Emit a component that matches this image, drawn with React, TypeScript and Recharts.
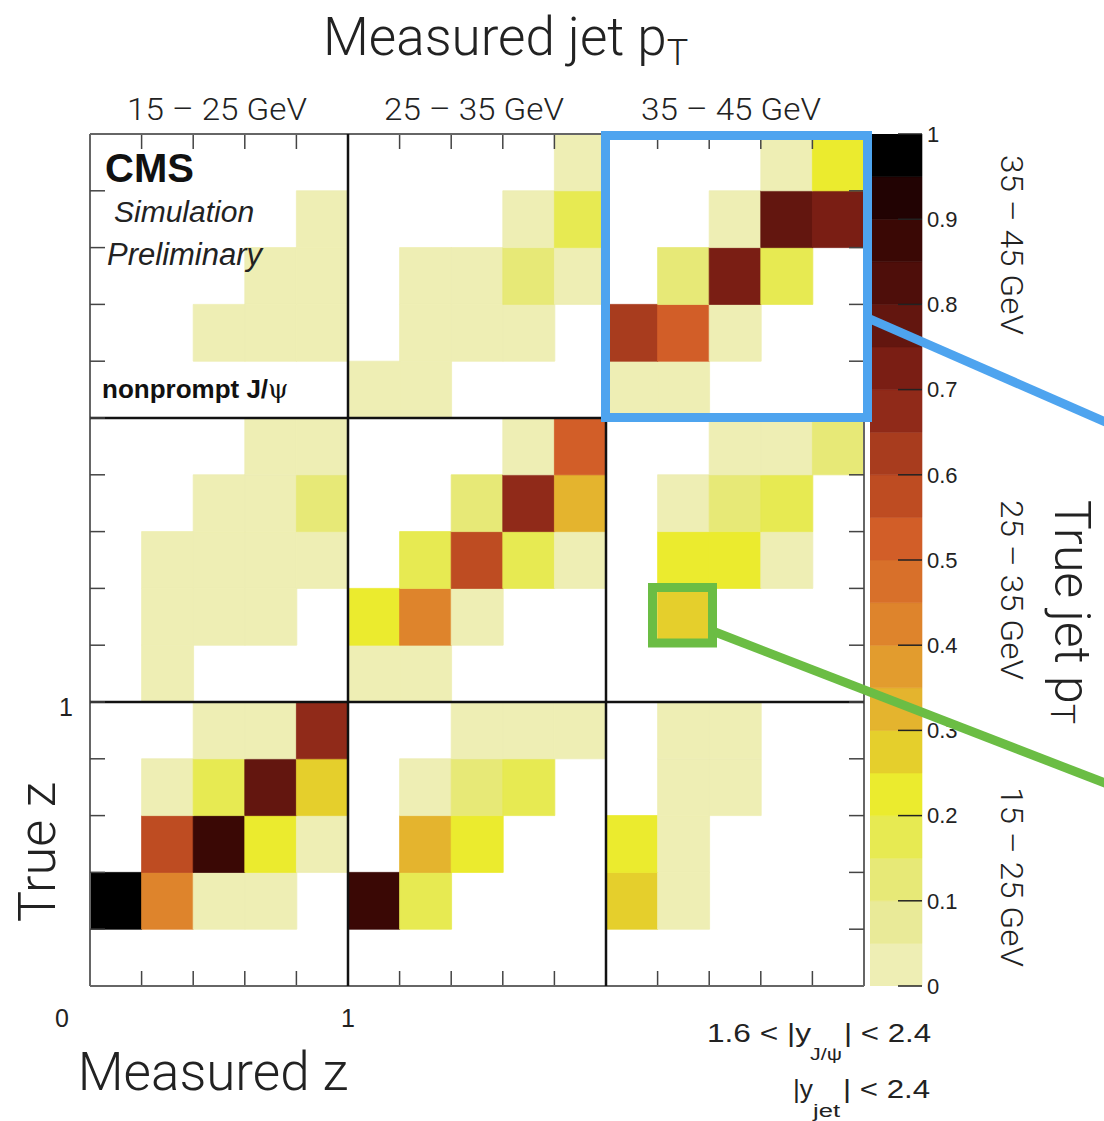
import React from 'react';
import { BarChart, Bar, Cell, XAxis, YAxis, ReferenceLine } from 'recharts';

// ---------- data (each block: rows from top = high true z, columns = measured z low->high) ----------
const MEASURED_PT_BINS = ['15 – 25 GeV', '25 – 35 GeV', '35 – 45 GeV'];
const TRUE_PT_BINS = ['15 – 25 GeV', '25 – 35 GeV', '35 – 45 GeV'];

const MEAS_15_TRUE_35 = [
  [0, 0, 0, 0, 0],
  [0, 0, 0, 0, 0.03],
  [0, 0, 0, 0.03, 0.03],
  [0, 0, 0.03, 0.03, 0.03],
  [0, 0, 0, 0, 0],
];
const MEAS_25_TRUE_35 = [
  [0, 0, 0, 0, 0.03],
  [0, 0, 0, 0.03, 0.17],
  [0, 0.03, 0.03, 0.12, 0.03],
  [0, 0.03, 0.03, 0.03, 0],
  [0.03, 0.03, 0, 0, 0],
];
const MEAS_35_TRUE_35 = [
  [0, 0, 0, 0.03, 0.22],
  [0, 0, 0.03, 0.77, 0.72],
  [0, 0.12, 0.72, 0.17, 0],
  [0.62, 0.52, 0.03, 0, 0],
  [0.03, 0.03, 0, 0, 0],
];
const MEAS_15_TRUE_25 = [
  [0, 0, 0, 0.03, 0.03],
  [0, 0, 0.03, 0.03, 0.12],
  [0, 0.03, 0.03, 0.03, 0.03],
  [0, 0.03, 0.03, 0.03, 0],
  [0, 0.03, 0, 0, 0],
];
const MEAS_25_TRUE_25 = [
  [0, 0, 0, 0.03, 0.52],
  [0, 0, 0.12, 0.67, 0.32],
  [0, 0.17, 0.57, 0.17, 0.03],
  [0.22, 0.42, 0.03, 0, 0],
  [0.03, 0.03, 0, 0, 0],
];
const MEAS_35_TRUE_25 = [
  [0, 0, 0.03, 0.03, 0.14],
  [0, 0.03, 0.12, 0.17, 0],
  [0, 0.22, 0.22, 0.03, 0],
  [0, 0.27, 0, 0, 0],
  [0, 0, 0, 0, 0],
];
const MEAS_15_TRUE_15 = [
  [0, 0, 0.03, 0.03, 0.67],
  [0, 0.03, 0.17, 0.77, 0.27],
  [0, 0.57, 0.87, 0.22, 0.03],
  [0.97, 0.42, 0.03, 0.03, 0],
  [0, 0, 0, 0, 0],
];
const MEAS_25_TRUE_15 = [
  [0, 0, 0.03, 0.03, 0.03],
  [0, 0.03, 0.12, 0.17, 0],
  [0, 0.32, 0.22, 0, 0],
  [0.87, 0.17, 0, 0, 0],
  [0, 0, 0, 0, 0],
];
const MEAS_35_TRUE_15 = [
  [0, 0.03, 0.03, 0, 0],
  [0, 0.03, 0.03, 0, 0],
  [0.22, 0.03, 0, 0, 0],
  [0.27, 0.03, 0, 0, 0],
  [0, 0, 0, 0, 0],
];

const Z_EDGE_TICKS = [1, 2, 3, 4, 5, 6, 7, 8, 9, 10, 11, 12, 13, 14];
const COLORBAR_TICKS = [0, 0.1, 0.2, 0.3, 0.4, 0.5, 0.6, 0.7, 0.8, 0.9, 1];
const COLORBAR_LEVELS = [0, 0.05, 0.1, 0.15, 0.2, 0.25, 0.3, 0.35, 0.4, 0.45, 0.5, 0.55, 0.6, 0.65, 0.7, 0.75, 0.8, 0.85, 0.9, 0.95, 1];
const PALETTE = [
  '#eeeeb4', '#e9ea98', '#e7e977', '#e7ea52', '#ebeb2e',
  '#e5cf2c', '#e4b42e', '#e29c2e', '#de842c', '#d8702a',
  '#d25e28', '#be4c22', '#a83c1e', '#902a19', '#7a1e14',
  '#63160f', '#4e0e0a', '#3a0805', '#220303', '#000000',
];

// ---------- derived ----------
const BLOCK = 5;
const BLOCKS = [
  [MEAS_15_TRUE_15, MEAS_25_TRUE_15, MEAS_35_TRUE_15],
  [MEAS_15_TRUE_25, MEAS_25_TRUE_25, MEAS_35_TRUE_25],
  [MEAS_15_TRUE_35, MEAS_25_TRUE_35, MEAS_35_TRUE_35],
];
const N = BLOCK * 3;
const COLUMNS = Array.from({ length: N }, (_, i) => i);
const ROWS = Array.from({ length: N }, (_, i) => i);

function cellValue(row: number, col: number): number {
  const b = BLOCKS[Math.floor(row / BLOCK)][Math.floor(col / BLOCK)];
  return b[BLOCK - 1 - (row % BLOCK)][col % BLOCK];
}
function colorOf(v: number): string {
  if (v <= 0) return 'none';
  let k = 0;
  for (let i = 0; i < COLORBAR_LEVELS.length - 1; i++) {
    if (v >= COLORBAR_LEVELS[i]) k = i;
  }
  return PALETTE[Math.min(k, PALETTE.length - 1)];
}

const columnData = COLUMNS.map((c) => {
  const o: Record<string, number> = { col: c };
  ROWS.forEach((r) => { o['r' + r] = 1; });
  return o;
});

const colorbarData = [(() => {
  const o: Record<string, number | string> = { name: 'z' };
  PALETTE.forEach((_, k) => { o['b' + k] = +(COLORBAR_LEVELS[k + 1] - COLORBAR_LEVELS[k]).toFixed(4); });
  return o;
})()];

// layout constants
const PLOT = { left: 90, top: 134, right: 864, bottom: 986 };
const TICK_PX = 15;
const TICK_UNITS = (TICK_PX * N) / (PLOT.bottom - PLOT.top);

const ROOT_FONT = "'Liberation Sans', Arial, Helvetica, sans-serif";
const THIN_FONT = "Roboto, 'Liberation Sans', sans-serif";
const BLUE = '#4ea4ef';
const GREEN = '#6bbd44';
const EmptyTick = () => <g />;

export default function App() {
  return (
    <div style={{ position: 'absolute', left: 0, top: 0, width: 1104, height: 1121, background: '#fff' }}>
      <div style={{ position: 'absolute', left: 0, top: 0 }}>
        <BarChart
          width={1104}
          height={1121}
          data={columnData}
          margin={{ top: PLOT.top, left: PLOT.left, right: 1104 - PLOT.right, bottom: 1121 - PLOT.bottom }}
          barCategoryGap={0}
          barGap={0}
        >
          <XAxis dataKey="col" hide />
          <YAxis type="number" domain={[0, N]} hide allowDataOverflow />
          <YAxis yAxisId="yl" type="number" domain={[0, N]} allowDataOverflow orientation="left" mirror
            ticks={Z_EDGE_TICKS} interval={0} tick={EmptyTick} tickSize={TICK_PX} axisLine={false}
            tickLine={{ stroke: '#444', strokeWidth: 1.5 }} />
          <YAxis yAxisId="yr" type="number" domain={[0, N]} allowDataOverflow orientation="right" mirror
            ticks={Z_EDGE_TICKS} interval={0} tick={EmptyTick} tickSize={TICK_PX} axisLine={false}
            tickLine={{ stroke: '#444', strokeWidth: 1.5 }} />
          {ROWS.map((r) => (
            <Bar key={r} dataKey={'r' + r} stackId="z" isAnimationActive={false}>
              {COLUMNS.map((c) => {
                const f = colorOf(cellValue(r, c));
                return <Cell key={c} fill={f} stroke={f === 'none' ? 'none' : f} strokeWidth={0.8} />;
              })}
            </Bar>
          ))}
          {Z_EDGE_TICKS.map((k) => (
            <ReferenceLine key={'tt' + k} position="start" ifOverflow="visible"
              segment={[{ x: k, y: N }, { x: k, y: N - TICK_UNITS }]} stroke="#444" strokeWidth={1.5} />
          ))}
          {Z_EDGE_TICKS.map((k) => (
            <ReferenceLine key={'tb' + k} position="start" ifOverflow="visible"
              segment={[{ x: k, y: 0 }, { x: k, y: TICK_UNITS }]} stroke="#444" strokeWidth={1.5} />
          ))}
          <ReferenceLine x={0} position="start" stroke="#666" strokeWidth={2} />
          <ReferenceLine x={N - 1} position="end" stroke="#666" strokeWidth={2} />
          <ReferenceLine yAxisId="yl" y={0} stroke="#666" strokeWidth={2} />
          <ReferenceLine yAxisId="yl" y={N} stroke="#666" strokeWidth={2} />
          <ReferenceLine x={BLOCK} position="start" stroke="#111" strokeWidth={2.5} />
          <ReferenceLine x={2 * BLOCK} position="start" stroke="#111" strokeWidth={2.5} />
          <ReferenceLine yAxisId="yl" y={BLOCK} stroke="#111" strokeWidth={2.5} />
          <ReferenceLine yAxisId="yl" y={2 * BLOCK} stroke="#111" strokeWidth={2.5} />
        </BarChart>
      </div>

      <div style={{ position: 'absolute', left: 870, top: 0 }}>
        <BarChart
          width={112}
          height={1121}
          data={colorbarData}
          margin={{ top: PLOT.top, left: 0, right: 0, bottom: 1121 - PLOT.bottom }}
          barCategoryGap={0}
          barGap={0}
        >
          <XAxis dataKey="name" hide />
          <YAxis type="number" domain={[0, 1]} allowDataOverflow orientation="right" width={60}
            ticks={COLORBAR_TICKS} interval={0} tickSize={0} tickMargin={5} axisLine={false} tickLine={false}
            tick={{ fontSize: 22, fill: '#222', fontFamily: ROOT_FONT }} />
          <YAxis yAxisId="cbt" type="number" domain={[0, 1]} allowDataOverflow orientation="right" mirror
            ticks={COLORBAR_TICKS} interval={0} tick={EmptyTick} tickSize={24} axisLine={false}
            tickLine={{ stroke: '#222', strokeWidth: 1.5 }} />
          {PALETTE.map((col, k) => (
            <Bar key={k} dataKey={'b' + k} stackId="cb" fill={col} stroke={col} strokeWidth={0.6} isAnimationActive={false} />
          ))}
        </BarChart>
      </div>

      <svg width={1104} height={1121} style={{ position: 'absolute', left: 0, top: 0, pointerEvents: 'none' }}>
        {/* annotations */}
        <rect x={605.5} y={135.5} width={262} height={282} fill="none" stroke={BLUE} strokeWidth={9} />
        <line x1={870} y1={319} x2={1110} y2={424} stroke={BLUE} strokeWidth={9} />
        <rect x={652.5} y={587.5} width={60} height={55.5} fill="none" stroke={GREEN} strokeWidth={9} />
        <line x1={715} y1={632} x2={1110} y2={785} stroke={GREEN} strokeWidth={9} />

        {/* titles */}
        <text x={323} y={55} fontFamily={THIN_FONT} fontWeight={300} fontSize={53} fill="#222">
          Measured jet p<tspan dy={10} fontSize={36}>T</tspan>
        </text>
        {MEASURED_PT_BINS.map((t, i) => (
          <text key={t} x={127 + i * 257} y={120} fontFamily={THIN_FONT} fontWeight={300} fontSize={32}
            textLength={180} lengthAdjust="spacingAndGlyphs" fill="#222">{t}</text>
        ))}
        {TRUE_PT_BINS.map((t, i) => (
          <text key={'r' + t} transform={`translate(1012,${[877, 590, 245][i]}) rotate(90)`} x={-90}
            dominantBaseline="central" fontFamily={THIN_FONT} fontWeight={300} fontSize={32}
            textLength={180} lengthAdjust="spacingAndGlyphs" fill="#222">{t}</text>
        ))}
        <text transform="translate(1072,612) rotate(90)" textAnchor="middle" dominantBaseline="central"
          fontFamily={THIN_FONT} fontWeight={300} fontSize={50} fill="#222">
          True jet p<tspan dy={9} fontSize={34}>T</tspan>
        </text>
        <text transform="translate(37,852) rotate(-90)" textAnchor="middle" dominantBaseline="central"
          fontFamily={THIN_FONT} fontWeight={300} fontSize={52} fill="#222">True z</text>
        <text x={213} y={1090} textAnchor="middle" fontFamily={THIN_FONT} fontWeight={300} fontSize={53} fill="#222">Measured z</text>
        <text x={66} y={716} textAnchor="middle" fontFamily={ROOT_FONT} fontSize={25} fill="#222">1</text>
        <text x={62} y={1027} textAnchor="middle" fontFamily={ROOT_FONT} fontSize={25} fill="#222">0</text>
        <text x={348} y={1027} textAnchor="middle" fontFamily={ROOT_FONT} fontSize={25} fill="#222">1</text>

        {/* in-frame labels */}
        <text x={105} y={182} fontFamily={ROOT_FONT} fontWeight="bold" fontSize={40} fill="#111">CMS</text>
        <text x={114} y={222} fontFamily={ROOT_FONT} fontStyle="italic" fontSize={30} fill="#222">Simulation</text>
        <text x={107} y={265} fontFamily={ROOT_FONT} fontStyle="italic" fontSize={31} fill="#222">Preliminary</text>
        <text x={102} y={398} fontFamily={ROOT_FONT} fontWeight="bold" fontSize={26} fill="#111">
          nonprompt J/<tspan fontFamily="'DejaVu Serif', serif" fontWeight="normal">ψ</tspan>
        </text>

        {/* rapidity cuts */}
        <text x={707} y={1042} fontFamily={ROOT_FONT} fontSize={26} fill="#222" textLength={104} lengthAdjust="spacingAndGlyphs">1.6 &lt; |y</text>
        <text x={810} y={1060} fontFamily={ROOT_FONT} fontSize={16} fill="#222" textLength={32} lengthAdjust="spacingAndGlyphs">J/ψ</text>
        <text x={844} y={1042} fontFamily={ROOT_FONT} fontSize={26} fill="#222" textLength={87} lengthAdjust="spacingAndGlyphs">| &lt; 2.4</text>
        <text x={793} y={1098} fontFamily={ROOT_FONT} fontSize={26} fill="#222" textLength={20} lengthAdjust="spacingAndGlyphs">|y</text>
        <text x={813} y={1117} fontFamily={ROOT_FONT} fontSize={18} fill="#222" textLength={27} lengthAdjust="spacingAndGlyphs">jet</text>
        <text x={843} y={1098} fontFamily={ROOT_FONT} fontSize={26} fill="#222" textLength={87} lengthAdjust="spacingAndGlyphs">| &lt; 2.4</text>
      </svg>
    </div>
  );
}
